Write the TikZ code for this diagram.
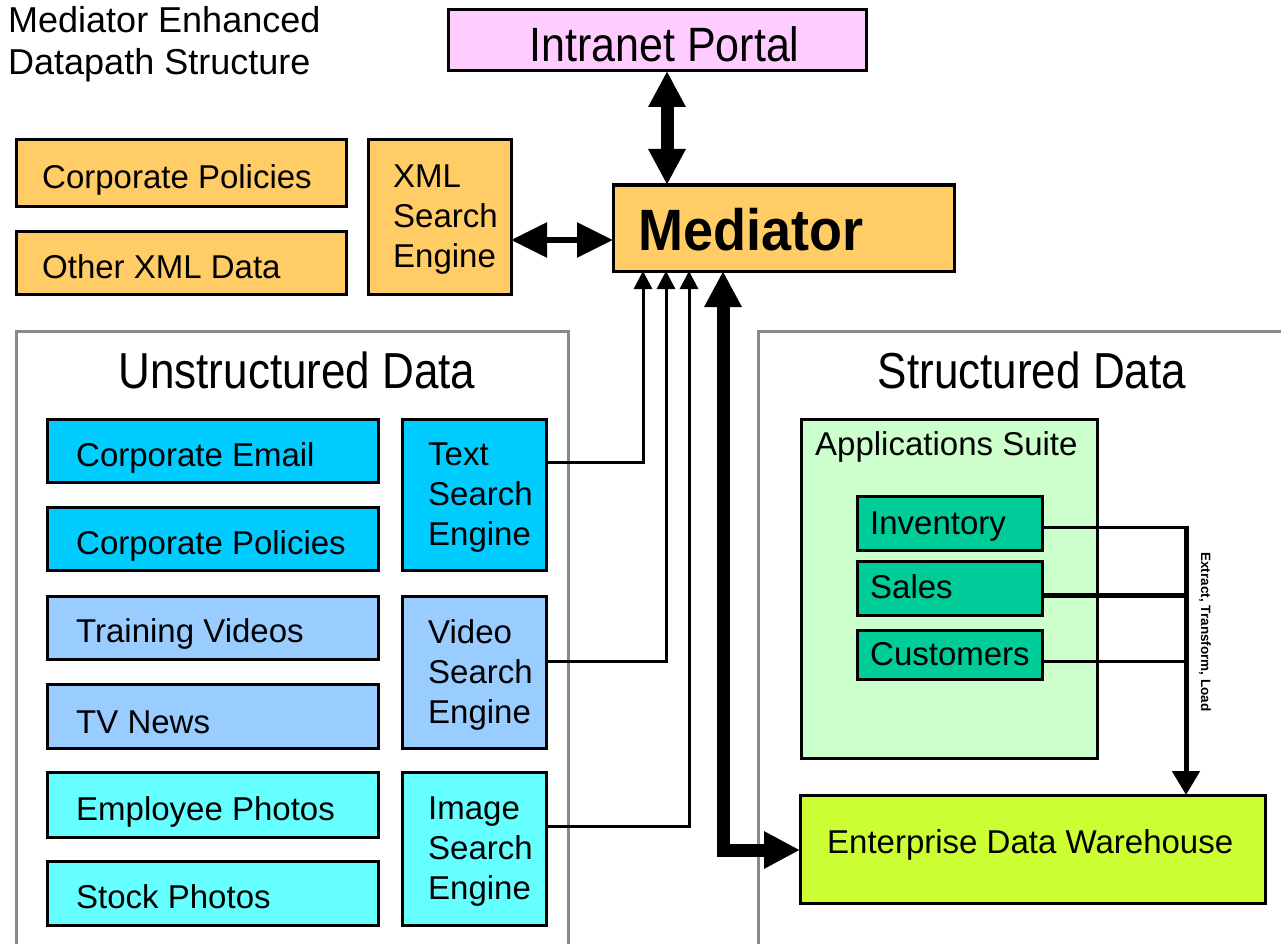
\documentclass[tikz,border=0pt]{standalone}
\usepackage{graphicx}
\usepackage{fontspec}
\setmainfont{Liberation Sans}
\usetikzlibrary{arrows.meta}
\definecolor{cpink}{HTML}{FFCCFF}
\definecolor{corange}{HTML}{FFCC66}
\definecolor{ccyan}{HTML}{00CCFF}
\definecolor{cblue}{HTML}{99CCFF}
\definecolor{caqua}{HTML}{66FFFF}
\definecolor{cmint}{HTML}{CCFFCC}
\definecolor{cteal}{HTML}{00CC99}
\definecolor{clime}{HTML}{CCFF33}
\definecolor{pgray}{HTML}{888888}
\newcommand{\vstr}[2]{\scalebox{1}[#1]{#2}}
\begin{document}
\begin{tikzpicture}[x=1pt,y=-1pt,
  bx/.style={draw=black, line width=3pt, anchor=north west, inner sep=0pt, outer sep=0pt},
  tx/.style={anchor=base west, inner sep=0pt, font=\fontsize{33}{40}\selectfont},
  mtx/.style={anchor=north west, inner sep=0pt, align=left, font=\fontsize{33}{40}\selectfont},
  hdr/.style={anchor=base, inner sep=0pt, font=\fontsize{44}{50}\selectfont},
  ttl/.style={anchor=base west, inner sep=0pt, font=\fontsize{36}{40}\selectfont},
  panel/.style={draw=pgray, line width=3pt},
  thinarr/.style={line width=3pt, -{Triangle[length=18pt,width=18pt]}},
  xmlarr/.style={line width=6pt, {Triangle[length=36pt,width=34pt]}-{Triangle[length=36pt,width=34pt]}},
  thickarr/.style={line width=13pt, line join=miter, {Triangle[length=36pt,width=35pt]}-{Triangle[length=36pt,width=35pt]}},
  etlline/.style={line width=3pt},
  ]
\fill[white] (0,0) rectangle (1281,944);
\useasboundingbox (0,0) rectangle (1281,944);

% titles
\node[ttl] (title1) at (8,33) {Mediator Enhanced};
\node[ttl] (title2) at (8,75) {Datapath Structure};

% panels
\draw[panel] (16,944) -- (16,331) -- (568,331) -- (568,944);
\draw[panel] (758,944) -- (758,331) -- (1281,331);
\node[hdr] (uhdr) at (297,388) {\vstr{1.15}{Unstructured Data}};
\node[hdr] (shdr) at (1032,388) {\vstr{1.15}{Structured Data}};

% top row
\node[bx, fill=cpink, minimum width=418pt, minimum height=61pt] (portal) at (448,10) {};
\node[anchor=base, inner sep=0pt, font=\fontsize{43}{48}\selectfont] (portalt) at (664.5,62) {\vstr{1.12}{Intranet Portal}};

\node[bx, fill=corange, minimum width=330pt, minimum height=66pt] (cp1) at (16,140) {};
\node[tx] (cp1t) at ([shift={(26,16)}]cp1.west) {Corporate Policies};
\node[bx, fill=corange, minimum width=330pt, minimum height=63pt] (ox) at (16,231) {};
\node[tx] (oxt) at ([shift={(26,16)}]ox.west) {Other XML Data};
\node[bx, fill=corange, minimum width=143pt, minimum height=154pt] (xse) at (368,140) {};
\node[mtx] (xset) at ([shift={(25,24.5)}]xse.north west) {XML\\Search\\Engine};
\node[bx, fill=corange, minimum width=341pt, minimum height=86pt] (med) at (613,185) {};
\node[anchor=base west, inner sep=0pt, font=\bfseries\fontsize{54}{60}\selectfont] (medt) at ([shift={(25,22)}]med.west) {\vstr{1.08}{Mediator}};

% unstructured data
\node[bx, fill=ccyan, minimum width=331pt, minimum height=63pt] (ce) at (47,419) {};
\node[tx] (cet) at ([shift={(29,16)}]ce.west) {Corporate Email};
\node[bx, fill=ccyan, minimum width=331pt, minimum height=63pt] (cp2) at (47,507) {};
\node[tx] (cp2t) at ([shift={(29,16)}]cp2.west) {Corporate Policies};
\node[bx, fill=cblue, minimum width=331pt, minimum height=63pt] (tv) at (47,596) {};
\node[tx] (tvt) at ([shift={(29,15)}]tv.west) {Training Videos};
\node[bx, fill=cblue, minimum width=331pt, minimum height=64pt] (tvn) at (47,684) {};
\node[tx] (tvnt) at ([shift={(29,17)}]tvn.west) {TV News};
\node[bx, fill=caqua, minimum width=331pt, minimum height=65pt] (ep) at (47,772) {};
\node[tx] (ept) at ([shift={(29,16)}]ep.west) {Employee Photos};
\node[bx, fill=caqua, minimum width=331pt, minimum height=64pt] (sp) at (47,861) {};
\node[tx] (spt) at ([shift={(29,15)}]sp.west) {Stock Photos};

\node[bx, fill=ccyan, minimum width=144pt, minimum height=151pt] (tse) at (402,419) {};
\node[mtx] (tset) at ([shift={(26,23.5)}]tse.north west) {Text\\Search\\Engine};
\node[bx, fill=cblue, minimum width=144pt, minimum height=152pt] (vse) at (402,596) {};
\node[mtx] (vset) at ([shift={(26,23.5)}]vse.north west) {Video\\Search\\Engine};
\node[bx, fill=caqua, minimum width=144pt, minimum height=153pt] (ise) at (402,772) {};
\node[mtx] (iset) at ([shift={(26,25)}]ise.north west) {Image\\Search\\Engine};

% structured data
\node[bx, fill=cmint, minimum width=296pt, minimum height=339pt] (app) at (801,419) {};
\node[tx] (appt) at ([shift={(14,36)}]app.north west) {Applications Suite};
\node[bx, fill=cteal, minimum width=185pt, minimum height=54pt] (inv) at (857,496) {};
\node[tx] (invt) at ([shift={(13,11)}]inv.west) {Inventory};
\node[bx, fill=cteal, minimum width=185pt, minimum height=54pt] (sal) at (857,561) {};
\node[tx] (salt) at ([shift={(13,10)}]sal.west) {Sales};
\node[bx, fill=cteal, minimum width=185pt, minimum height=49pt] (cus) at (857,630) {};
\node[tx] (cust) at ([shift={(13,10.5)}]cus.west) {Customers};
\node[bx, fill=clime, minimum width=465pt, minimum height=108pt] (edw) at (800,795) {};
\node[tx] (edwt) at ([shift={(27,4)}]edw.west) {Enterprise Data Warehouse};

% connectors
\coordinate (k0) at (667,0);
\draw[thickarr] (portal.south -| k0) -- (med.north -| k0);
\coordinate (k5) at (0,240);
\draw[xmlarr] (xse.east |- k5) -- (med.west |- k5);

\coordinate (k1) at (643,462);
\coordinate (k2) at (666,661);
\coordinate (k3) at (689,826);
\draw[thinarr] (tse.east |- k1) -- (k1) -- (k1 |- med.south);
\draw[thinarr] (vse.east |- k2) -- (k2) -- (k2 |- med.south);
\draw[thinarr] (ise.east |- k3) -- (k3) -- (k3 |- med.south);

\coordinate (k4) at (723,850);
\draw[thickarr] (k4 |- med.south) -- (k4) -- (edw.west |- k4);

\coordinate (e1) at (1186,527);
\coordinate (e2) at (1186,595);
\coordinate (e3) at (1186,661);
\draw[etlline] (inv.east |- e1) -- (e1);
\draw[line width=5pt] (sal.east |- e2) -- (e2);
\draw[etlline] (cus.east |- e3) -- (e3);
\draw[line width=5pt, -{Triangle[length=24pt,width=27pt]}] ([yshift=1.5pt]e1) -- (e1 |- edw.north);
\node[rotate=-90, inner sep=0pt, font=\bfseries\fontsize{13.5}{15}\selectfont] (etl) at (1205,632) {Extract, Transform, Load};
\end{tikzpicture}
\end{document}
